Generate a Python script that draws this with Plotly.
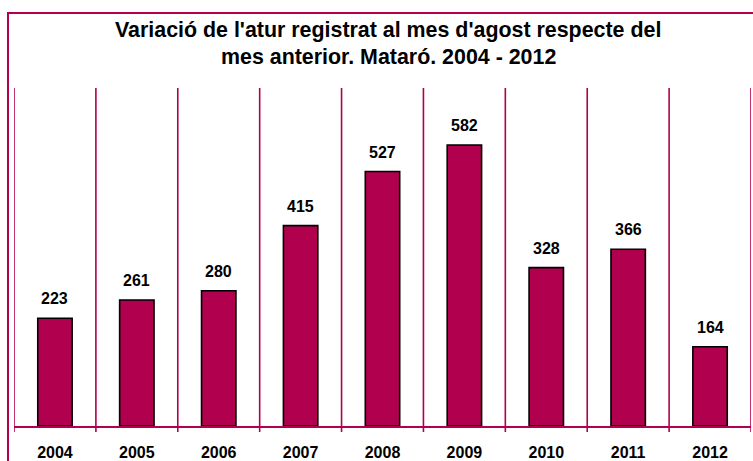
import plotly.graph_objects as go

years = ["2004", "2005", "2006", "2007", "2008", "2009", "2010", "2011", "2012"]
values = [223, 261, 280, 415, 527, 582, 328, 366, 164]
title_lines = ["Variació de l'atur registrat al mes d'agost respecte del",
               "mes anterior. Mataró. 2004 - 2012"]

MAROON = "#B0004E"
FONT = "Liberation Sans"

W, H = 753, 461
ml, mr, mt, mb = 14, 2, 88, 35
plot_h = H - mt - mb
plot_w = W - ml - mr

def py(px_y):
    return (H - mb - px_y) / plot_h

def pxx(px_x):
    return (px_x - ml) / plot_w

xs = list(range(len(years)))

fig = go.Figure()
fig.add_trace(go.Bar(
    x=xs, y=values, width=0.42,
    marker=dict(color=MAROON, line=dict(color="black", width=1.6)),
    hoverinfo="skip",
))

shapes = []
# vertical separators (gridlines) and tick marks
for i in range(len(years) + 1):
    xb = i - 0.5
    shapes.append(dict(type="line", xref="x", yref="y", x0=xb, x1=xb, y0=0, y1=700,
                       line=dict(color=MAROON, width=1.6), layer="below"))
    shapes.append(dict(type="line", xref="x", yref="paper", x0=xb, x1=xb, y0=0, y1=-6 / plot_h,
                       line=dict(color=MAROON, width=1.6)))
# outer chart border (top and left visible)
shapes.append(dict(type="rect", xref="paper", yref="paper",
                   x0=pxx(8), x1=pxx(800), y0=py(520), y1=py(13),
                   line=dict(color=MAROON, width=2), fillcolor="rgba(0,0,0,0)"))

annotations = []
for x, v in zip(xs, values):
    annotations.append(dict(x=x, y=v, xref="x", yref="y", text=str(v), showarrow=False,
                            yanchor="bottom", yshift=9,
                            font=dict(family=FONT, size=16, color="black", weight="bold")))
for line, ypx in zip(title_lines, [30, 57]):
    annotations.append(dict(x=pxx(388), y=py(ypx), xref="paper", yref="paper", text=line,
                            showarrow=False, xanchor="center", yanchor="middle",
                            font=dict(family=FONT, size=21.4, color="black", weight="bold")))

fig.update_layout(
    width=W, height=H,
    margin=dict(l=ml, r=mr, t=mt, b=mb, autoexpand=False),
    paper_bgcolor="white", plot_bgcolor="white",
    showlegend=False,
    shapes=shapes,
    annotations=annotations,
    xaxis=dict(range=[-0.5, len(years) - 0.5], tickvals=xs, ticktext=years,
               showgrid=False, zeroline=False, showline=True, linecolor=MAROON, linewidth=2,
               ticks="", ticklabelstandoff=11, automargin=False,
               tickfont=dict(family=FONT, size=16, color="black", weight="bold")),
    yaxis=dict(range=[0, 700], visible=False, showgrid=False, zeroline=False, automargin=False),
)

fig.write_html("out.html", config={"displayModeBar": False},
               post_script="document.body.style.margin='0';document.body.style.padding='0';")
